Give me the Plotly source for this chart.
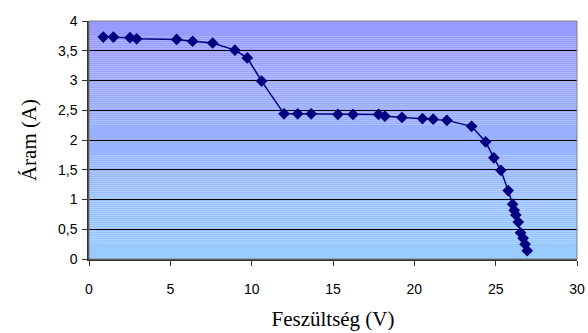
import plotly.graph_objects as go

voltage = [0.88, 1.5, 2.52, 2.93, 5.39, 6.37, 7.6, 8.97, 9.73, 10.61, 11.99, 12.83, 13.66,
           15.3, 16.23, 17.8, 18.19, 19.24, 20.5, 21.16, 22.0, 23.52, 24.38, 24.89, 25.32,
           25.77, 26.04, 26.14, 26.24, 26.39, 26.53, 26.69, 26.81, 26.94]
current = [3.73, 3.73, 3.72, 3.70, 3.69, 3.66, 3.63, 3.51, 3.38, 2.99, 2.44, 2.44, 2.44,
           2.43, 2.43, 2.43, 2.40, 2.38, 2.36, 2.35, 2.33, 2.23, 1.97, 1.70, 1.49,
           1.15, 0.92, 0.82, 0.74, 0.62, 0.44, 0.35, 0.25, 0.14]

x_title = "Feszültség (V)"
y_title = "Áram (A)"

fig = go.Figure()

# gradient background bands
n = 120
top = (153, 153, 255)
bot = (153, 204, 255)
shapes = []
for i in range(n):
    t = (i + 0.5) / n
    c = tuple(round(bot[k] + (top[k] - bot[k]) * t) for k in range(3))
    shapes.append(dict(type="rect", xref="x domain", yref="y domain",
                       x0=0, x1=1, y0=i / n, y1=(i + 1) / n,
                       fillcolor=f"rgb{c}", line=dict(width=0), layer="below"))
shapes.append(dict(type="rect", xref="x domain", yref="y domain", x0=0, x1=1, y0=0, y1=1,
                   line=dict(color="#808080", width=1), fillcolor="rgba(0,0,0,0)", layer="above"))

fig.add_trace(go.Scatter(
    x=voltage, y=current, mode="lines+markers",
    line=dict(color="#000080", width=1.5),
    marker=dict(symbol="diamond", size=9, color="#000080"),
    showlegend=False, cliponaxis=False,
))

tickfont = dict(family="Liberation Sans, Arial", size=14, color="black")
titlefont = dict(family="Liberation Serif, Times New Roman", size=21, color="black")
fig.update_layout(
    width=588, height=333,
    margin=dict(l=89, r=11, t=21, b=74),
    paper_bgcolor="white", plot_bgcolor="rgba(0,0,0,0)",
    separators=", ",
    shapes=shapes,
    xaxis=dict(range=[0, 30], dtick=5, tick0=0, showgrid=False, zeroline=False,
               showline=True, linecolor="#333333", linewidth=1.5, automargin=False,
               ticks="outside", ticklen=5, tickcolor="#333333", tickfont=tickfont,
               ticklabelstandoff=11,
               title=dict(text=x_title, font=titlefont, standoff=16)),
    yaxis=dict(range=[0, 4], dtick=0.5, tick0=0, showgrid=True, gridcolor="black", gridwidth=1,
               zeroline=False, showline=True, linecolor="#333333", linewidth=1.5, automargin=False,
               ticks="outside", ticklen=5, tickcolor="#333333", tickfont=tickfont,
               ticklabelstandoff=2,
               title=dict(text=y_title, font=titlefont, standoff=16)),
)

fig.write_html("out.html")
